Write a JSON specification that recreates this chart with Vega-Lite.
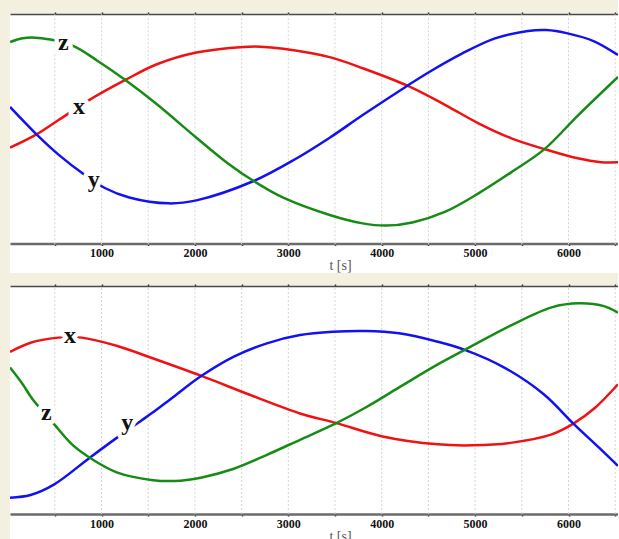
{
  "$schema": "https://vega.github.io/schema/vega-lite/v6.json",
  "background": "#f3f0e0",
  "padding": {"left": 10, "top": 11, "right": 0, "bottom": 0},
  "spacing": 13,
  "bounds": "flush",
  "config": {"view": {"fill": "white", "stroke": null}, "font": "Liberation Serif"},
  "datasets": {
    "vgrid": [{"t": 500}, {"t": 1000}, {"t": 1500}, {"t": 2000}, {"t": 2500}, {"t": 3000}, {"t": 3500}, {"t": 4000}, {"t": 4500}, {"t": 5000}, {"t": 5500}, {"t": 6000}, {"t": 6500}],
    "top": [
      {"s": "x", "t": 20, "v": 6.84}, {"s": "x", "t": 304, "v": 7.68}, {"s": "x", "t": 536, "v": 8.57}, {"s": "x", "t": 853, "v": 9.79}, {"s": "x", "t": 1255, "v": 11.11}, {"s": "x", "t": 1593, "v": 12.1}, {"s": "x", "t": 2016, "v": 12.84}, {"s": "x", "t": 2523, "v": 13.19}, {"s": "x", "t": 2700, "v": 13.21}, {"s": "x", "t": 2946, "v": 13.08}, {"s": "x", "t": 3443, "v": 12.55}, {"s": "x", "t": 3797, "v": 11.85}, {"s": "x", "t": 4275, "v": 10.75}, {"s": "x", "t": 4682, "v": 9.53}, {"s": "x", "t": 5036, "v": 8.38}, {"s": "x", "t": 5389, "v": 7.43}, {"s": "x", "t": 5743, "v": 6.75}, {"s": "x", "t": 6097, "v": 6.17}, {"s": "x", "t": 6345, "v": 5.93}, {"s": "x", "t": 6530, "v": 5.92},
      {"s": "y", "t": 20, "v": 9.41}, {"s": "y", "t": 304, "v": 7.68}, {"s": "y", "t": 536, "v": 6.42}, {"s": "y", "t": 811, "v": 5.16}, {"s": "y", "t": 1035, "v": 4.3}, {"s": "y", "t": 1297, "v": 3.7}, {"s": "y", "t": 1720, "v": 3.33}, {"s": "y", "t": 2016, "v": 3.52}, {"s": "y", "t": 2629, "v": 4.74}, {"s": "y", "t": 3072, "v": 6.11}, {"s": "y", "t": 3443, "v": 7.47}, {"s": "y", "t": 3797, "v": 8.9}, {"s": "y", "t": 4275, "v": 10.75}, {"s": "y", "t": 4505, "v": 11.6}, {"s": "y", "t": 4859, "v": 12.77}, {"s": "y", "t": 5213, "v": 13.73}, {"s": "y", "t": 5566, "v": 14.2}, {"s": "y", "t": 5760, "v": 14.26}, {"s": "y", "t": 5991, "v": 14.05}, {"s": "y", "t": 6274, "v": 13.55}, {"s": "y", "t": 6530, "v": 12.68},
      {"s": "z", "t": 20, "v": 13.5}, {"s": "z", "t": 156, "v": 13.74}, {"s": "z", "t": 290, "v": 13.78}, {"s": "z", "t": 430, "v": 13.68}, {"s": "z", "t": 697, "v": 13.26}, {"s": "z", "t": 959, "v": 12.31}, {"s": "z", "t": 1255, "v": 11.11}, {"s": "z", "t": 1593, "v": 9.58}, {"s": "z", "t": 2016, "v": 7.47}, {"s": "z", "t": 2354, "v": 5.85}, {"s": "z", "t": 2629, "v": 4.74}, {"s": "z", "t": 2946, "v": 3.69}, {"s": "z", "t": 3443, "v": 2.6}, {"s": "z", "t": 3797, "v": 2.07}, {"s": "z", "t": 4045, "v": 1.93}, {"s": "z", "t": 4328, "v": 2.13}, {"s": "z", "t": 4682, "v": 2.81}, {"s": "z", "t": 5036, "v": 3.96}, {"s": "z", "t": 5389, "v": 5.3}, {"s": "z", "t": 5743, "v": 6.75}, {"s": "z", "t": 6097, "v": 8.85}, {"s": "z", "t": 6530, "v": 11.3}
    ],
    "bottom": [
      {"s": "x", "t": 20, "v": 10.99}, {"s": "x", "t": 240, "v": 11.57}, {"s": "x", "t": 536, "v": 11.89}, {"s": "x", "t": 663, "v": 11.92}, {"s": "x", "t": 790, "v": 11.89}, {"s": "x", "t": 1170, "v": 11.36}, {"s": "x", "t": 1532, "v": 10.62}, {"s": "x", "t": 2063, "v": 9.49}, {"s": "x", "t": 2594, "v": 8.27}, {"s": "x", "t": 3125, "v": 7.11}, {"s": "x", "t": 3514, "v": 6.5}, {"s": "x", "t": 4009, "v": 5.66}, {"s": "x", "t": 4600, "v": 5.16}, {"s": "x", "t": 4975, "v": 5.1}, {"s": "x", "t": 5397, "v": 5.27}, {"s": "x", "t": 5820, "v": 5.79}, {"s": "x", "t": 6052, "v": 6.47}, {"s": "x", "t": 6285, "v": 7.47}, {"s": "x", "t": 6530, "v": 8.95},
      {"s": "y", "t": 20, "v": 1.8}, {"s": "y", "t": 240, "v": 1.97}, {"s": "y", "t": 494, "v": 2.64}, {"s": "y", "t": 874, "v": 4.32}, {"s": "y", "t": 1170, "v": 5.6}, {"s": "y", "t": 1424, "v": 6.65}, {"s": "y", "t": 1532, "v": 7.1}, {"s": "y", "t": 1780, "v": 8.2}, {"s": "y", "t": 2063, "v": 9.45}, {"s": "y", "t": 2417, "v": 10.69}, {"s": "y", "t": 2771, "v": 11.53}, {"s": "y", "t": 3125, "v": 12.05}, {"s": "y", "t": 3478, "v": 12.26}, {"s": "y", "t": 3832, "v": 12.31}, {"s": "y", "t": 4186, "v": 12.16}, {"s": "y", "t": 4600, "v": 11.63}, {"s": "y", "t": 4890, "v": 11.12}, {"s": "y", "t": 5313, "v": 10.0}, {"s": "y", "t": 5735, "v": 8.32}, {"s": "y", "t": 6052, "v": 6.47}, {"s": "y", "t": 6327, "v": 4.95}, {"s": "y", "t": 6530, "v": 3.8},
      {"s": "z", "t": 20, "v": 10.0}, {"s": "z", "t": 156, "v": 8.95}, {"s": "z", "t": 262, "v": 8.0}, {"s": "z", "t": 494, "v": 6.42}, {"s": "z", "t": 684, "v": 5.16}, {"s": "z", "t": 874, "v": 4.32}, {"s": "z", "t": 1170, "v": 3.38}, {"s": "z", "t": 1532, "v": 2.92}, {"s": "z", "t": 1780, "v": 2.85}, {"s": "z", "t": 2063, "v": 3.06}, {"s": "z", "t": 2417, "v": 3.62}, {"s": "z", "t": 2771, "v": 4.5}, {"s": "z", "t": 3125, "v": 5.45}, {"s": "z", "t": 3514, "v": 6.5}, {"s": "z", "t": 3832, "v": 7.5}, {"s": "z", "t": 4186, "v": 8.75}, {"s": "z", "t": 4600, "v": 10.2}, {"s": "z", "t": 4890, "v": 11.12}, {"s": "z", "t": 5397, "v": 12.7}, {"s": "z", "t": 5820, "v": 13.8}, {"s": "z", "t": 6116, "v": 14.05}, {"s": "z", "t": 6370, "v": 13.89}, {"s": "z", "t": 6530, "v": 13.47}
    ],
    "labelsTop": [{"s": "z", "t": 590, "v": 12.98}, {"s": "x", "t": 760, "v": 8.94}, {"s": "y", "t": 917, "v": 4.36}],
    "labelsBottom": [{"s": "x", "t": 663, "v": 11.57}, {"s": "z", "t": 409, "v": 6.69}, {"s": "y", "t": 1276, "v": 6.06}]
  },
  "vconcat": [
    {
      "width": 608,
      "height": 259,
      "resolve": {"axis": {"x": "independent"}},
      "layer": [
        {
          "data": {"name": "vgrid"},
          "mark": {"type": "rule", "color": "#d6d6d6", "strokeDash": [2, 2], "strokeWidth": 1},
          "encoding": {
            "x": {"field": "t", "type": "quantitative", "scale": {"domain": [20, 6530], "nice": false, "zero": false},
              "axis": {"orient": "top", "values": [500, 1000, 1500, 2000, 2500, 3000, 3500, 4000, 4500, 5000, 5500, 6000, 6500], "labels": false, "title": null, "grid": false, "domainColor": "#4a4a4a", "domainWidth": 1.5, "ticks": true, "tickSize": 2, "tickColor": "#333333", "tickWidth": 1.5}},
            "y": {"datum": 0.75, "type": "quantitative", "scale": {"domain": [-1.06, 15.27], "nice": false, "zero": false}, "axis": null},
            "y2": {"datum": 15.27}
          }
        },
        {
          "data": {"name": "top"},
          "mark": {"type": "line", "strokeWidth": 2.5, "clip": true, "interpolate": "catmull-rom"},
          "encoding": {
            "x": {"field": "t", "type": "quantitative",
              "axis": {"orient": "bottom", "offset": -29.5, "values": [500, 1000, 1500, 2000, 2500, 3000, 3500, 4000, 4500, 5000, 5500, 6000, 6500], "labelExpr": "datum.value % 1000 === 0 ? format(datum.value, 'd') : ''", "labelFont": "Liberation Serif", "labelFontWeight": "bold", "labelFontSize": 12, "labelColor": "#111111", "labelPadding": 2, "labelOverlap": false, "labelFlush": false, "title": "t [s]", "titleFont": "Liberation Serif", "titleFontWeight": "normal", "titleFontSize": 14, "titleColor": "#555555", "titlePadding": 0, "titleX": 330, "grid": false, "domainColor": "#6b6b6b", "domainWidth": 2.5, "ticks": true, "tickSize": 2, "tickColor": "#333333", "tickWidth": 1.5}},
            "y": {"field": "v", "type": "quantitative",
              "axis": {"values": [1, 2, 3, 4, 5, 6, 7, 8, 9, 10, 11, 12, 13, 14, 15], "labels": false, "ticks": false, "domain": false, "title": null, "grid": true, "gridColor": "#d6d6d6", "gridDash": [2, 2], "gridWidth": 1}},
            "color": {"field": "s", "type": "nominal", "scale": {"domain": ["x", "y", "z"], "range": ["#f01212", "#1212f0", "#168c16"]}, "legend": null}
          }
        },
        {
          "data": {"name": "labelsTop"},
          "mark": {"type": "text", "font": "Liberation Serif", "fontWeight": "bold", "fontSize": 24, "fill": "white", "stroke": "white", "strokeWidth": 9, "strokeJoin": "round", "align": "center", "baseline": "alphabetic"},
          "encoding": {
            "x": {"field": "t", "type": "quantitative", "axis": null},
            "y": {"field": "v", "type": "quantitative", "axis": null},
            "text": {"field": "s"}
          }
        },
        {
          "data": {"name": "labelsTop"},
          "mark": {"type": "text", "font": "Liberation Serif", "fontWeight": "bold", "fontSize": 24, "fill": "#111111", "align": "center", "baseline": "alphabetic"},
          "encoding": {
            "x": {"field": "t", "type": "quantitative", "axis": null},
            "y": {"field": "v", "type": "quantitative", "axis": null},
            "text": {"field": "s"}
          }
        }
      ]
    },
    {
      "width": 608,
      "height": 254,
      "resolve": {"axis": {"x": "independent"}},
      "layer": [
        {
          "data": {"name": "vgrid"},
          "mark": {"type": "rule", "color": "#d6d6d6", "strokeDash": [2, 2], "strokeWidth": 1},
          "encoding": {
            "x": {"field": "t", "type": "quantitative", "scale": {"domain": [20, 6530], "nice": false, "zero": false},
              "axis": {"orient": "top", "values": [500, 1000, 1500, 2000, 2500, 3000, 3500, 4000, 4500, 5000, 5500, 6000, 6500], "labels": false, "title": null, "grid": false, "domainColor": "#4a4a4a", "domainWidth": 1.5, "ticks": true, "tickSize": 2, "tickColor": "#333333", "tickWidth": 1.5}},
            "y": {"datum": 0.77, "type": "quantitative", "scale": {"domain": [-0.87, 15.145], "nice": false, "zero": false}, "axis": null},
            "y2": {"datum": 15.145}
          }
        },
        {
          "data": {"name": "bottom"},
          "mark": {"type": "line", "strokeWidth": 2.5, "clip": true, "interpolate": "catmull-rom"},
          "encoding": {
            "x": {"field": "t", "type": "quantitative",
              "axis": {"orient": "bottom", "offset": -26, "values": [500, 1000, 1500, 2000, 2500, 3000, 3500, 4000, 4500, 5000, 5500, 6000, 6500], "labelExpr": "datum.value % 1000 === 0 ? format(datum.value, 'd') : ''", "labelFont": "Liberation Serif", "labelFontWeight": "bold", "labelFontSize": 12, "labelColor": "#111111", "labelPadding": 2, "labelOverlap": false, "labelFlush": false, "title": "t [s]", "titleFont": "Liberation Serif", "titleFontWeight": "normal", "titleFontSize": 14, "titleColor": "#555555", "titlePadding": 0, "titleX": 330, "grid": false, "domainColor": "#6b6b6b", "domainWidth": 2.5, "ticks": true, "tickSize": 2, "tickColor": "#333333", "tickWidth": 1.5}},
            "y": {"field": "v", "type": "quantitative",
              "axis": {"values": [1, 2, 3, 4, 5, 6, 7, 8, 9, 10, 11, 12, 13, 14, 15], "labels": false, "ticks": false, "domain": false, "title": null, "grid": true, "gridColor": "#d6d6d6", "gridDash": [2, 2], "gridWidth": 1}},
            "color": {"field": "s", "type": "nominal", "scale": {"domain": ["x", "y", "z"], "range": ["#f01212", "#1212f0", "#168c16"]}, "legend": null}
          }
        },
        {
          "data": {"name": "labelsBottom"},
          "mark": {"type": "text", "font": "Liberation Serif", "fontWeight": "bold", "fontSize": 24, "fill": "white", "stroke": "white", "strokeWidth": 9, "strokeJoin": "round", "align": "center", "baseline": "alphabetic"},
          "encoding": {
            "x": {"field": "t", "type": "quantitative", "axis": null},
            "y": {"field": "v", "type": "quantitative", "axis": null},
            "text": {"field": "s"}
          }
        },
        {
          "data": {"name": "labelsBottom"},
          "mark": {"type": "text", "font": "Liberation Serif", "fontWeight": "bold", "fontSize": 24, "fill": "#111111", "align": "center", "baseline": "alphabetic"},
          "encoding": {
            "x": {"field": "t", "type": "quantitative", "axis": null},
            "y": {"field": "v", "type": "quantitative", "axis": null},
            "text": {"field": "s"}
          }
        }
      ]
    }
  ]
}
